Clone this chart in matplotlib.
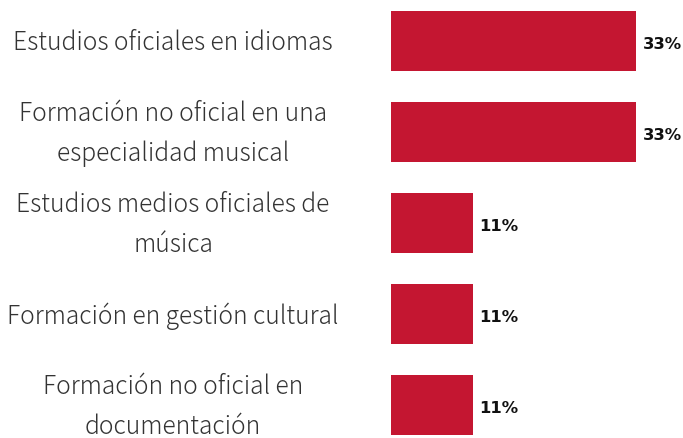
import matplotlib
matplotlib.use("Agg")
import matplotlib.pyplot as plt
import matplotlib.transforms as mtransforms

categories = [
    "Estudios oficiales en idiomas",
    "Formación no oficial en una\nespecialidad musical",
    "Estudios medios oficiales de\nmúsica",
    "Formación en gestión cultural",
    "Formación no oficial en\ndocumentación",
]
values = [33, 33, 11, 11, 11]
value_labels = ["33%", "33%", "11%", "11%", "11%"]

W, H = 683, 439
fig = plt.figure(figsize=(W / 100, H / 100), dpi=100)
ax = fig.add_axes([391 / W, 0, 1 - 391 / W, 1])
px_per_unit = 245 / 33
ax.set_xlim(0, (W - 391) / px_per_unit)
ax.set_ylim(4 + 33 / 91, -42 / 91)

ypos = list(range(len(values)))
ax.barh(ypos, values, height=0.66, color="#C41631", edgecolor="none")
for y, v, lab in zip(ypos, values, value_labels):
    ax.annotate(lab, (v, y), xytext=(5, -2), textcoords="offset points",
                ha="left", va="center", fontsize=11.8, fontweight="bold",
                color="#111111", family="DejaVu Sans")

trans = mtransforms.blended_transform_factory(fig.transFigure, ax.transData)
offset = mtransforms.ScaledTranslation(0, -1 / 100, fig.dpi_scale_trans)
for y, c in zip(ypos, categories):
    ax.text(173 / W, y, c, transform=trans + offset, ha="center", va="center",
            multialignment="center", fontsize=17.7, color="#333333",
            family=["Noto Sans CJK JP", "DejaVu Sans"], fontweight="light",
            linespacing=1.66)

ax.axis("off")
fig.savefig("out.png", dpi=100)
